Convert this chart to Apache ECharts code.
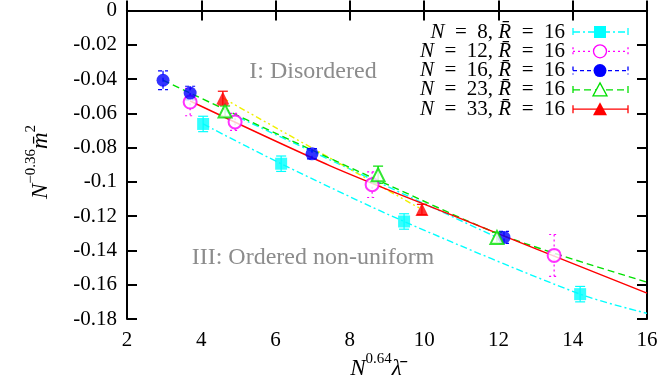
<!DOCTYPE html>
<html>
<head>
<meta charset="utf-8">
<script src="https://cdn.jsdelivr.net/npm/echarts@6.0.0/dist/echarts.min.js"></script>
<style>
html,body{margin:0;padding:0;background:#fff}
#main{width:664px;height:381px}
</style>
</head>
<body>
<div id="main"></div>
<script>
// 数据点 (x, y, 误差)
var xN8  = [4.05, 6.15, 9.46, 14.2];
var yN8  = [-0.0662, -0.0894, -0.1231, -0.1655];
var eN8  = [0.0045, 0.0045, 0.0045, 0.0045];
var xN12 = [3.70, 4.91, 8.60, 13.50];
var yN12 = [-0.0534, -0.0650, -0.1016, -0.1429];
var eN12 = [0.008, 0.005, 0.0075, 0.0122];
var xN16 = [2.97, 3.70, 6.98, 12.15];
var yN16 = [-0.0407, -0.0482, -0.0836, -0.1324];
var eN16 = [0.0055, 0.004, 0.003, 0.0035];
var xN23 = [4.64, 8.76, 11.96];
var yN23 = [-0.0587, -0.0958, -0.1324];
var eN23 = [0.003, 0.005, 0.003];
var xN33 = [4.58, 9.94];
var yN33 = [-0.0511, -0.1161];
var eN33 = [0.004, 0.003];

// 拟合曲线
var fitN8x  = [4.05, 6.15, 9.46, 14.2, 16];
var fitN8y  = [-0.0662, -0.0894, -0.1231, -0.1655, -0.1767];
var fitRedX = [3.70, 7.47, 10.70, 16];
var fitRedY = [-0.0528, -0.0906, -0.1190, -0.1649];
var fitGrnX = [2.97, 6.04, 9.08, 12.18, 16];
var fitGrnY = [-0.0407, -0.0720, -0.1022, -0.1318, -0.1585];
var fitCyX  = [4.64, 11.96];
var fitCyY  = [-0.0587, -0.1324];
var fitYelX = [4.58, 9.94];
var fitYelY = [-0.0511, -0.1161];

var legendN = ['8', '12', '16', '23', '33'];
var legendR = '16';

var FONT = 'Liberation Serif';
var colors = ['#00ffff', '#ff00ff', '#0000ff', '#00e000', '#ff0000'];
var dashes = [[7, 3, 2, 3], [2, 3], [4, 3], [7, 4], null];

function zip(a, b, c) {
  return a.map(function (v, i) { return c ? [v, b[i], c[i]] : [v, b[i]]; });
}

function errSeries(xs, ys, es, color, dash) {
  return {
    type: 'custom',
    z: 3,
    data: zip(xs, ys, es),
    encode: { x: 0, y: 1 },
    renderItem: function (params, api) {
      var x = api.value(0), y = api.value(1), e = api.value(2);
      var t = api.coord([x, y + e]);
      var b = api.coord([x, y - e]);
      var st = { stroke: color, lineWidth: 1.2, lineDash: dash || null };
      var hw = 5;
      return {
        type: 'group',
        children: [
          { type: 'line', shape: { x1: t[0], y1: t[1], x2: b[0], y2: b[1] }, style: st },
          { type: 'line', shape: { x1: t[0] - hw, y1: t[1], x2: t[0] + hw, y2: t[1] }, style: st },
          { type: 'line', shape: { x1: b[0] - hw, y1: b[1], x2: b[0] + hw, y2: b[1] }, style: st }
        ]
      };
    }
  };
}

function pts(xs, ys, symbol, color, size) {
  var empty = symbol.indexOf('empty') === 0;
  return {
    type: 'scatter', z: 4,
    data: zip(xs, ys),
    symbol: symbol, symbolSize: size,
    itemStyle: empty ? { color: color, borderColor: color, borderWidth: 1.3 } : { color: color }
  };
}

function fit(xs, ys, color, dash, smooth) {
  return {
    type: 'line', z: 2,
    data: zip(xs, ys),
    showSymbol: false, smooth: smooth ? 0.3 : false,
    lineStyle: { color: color, width: 1.4, type: dash || 'solid' }
  };
}

var rm = { fontFamily: FONT, fontSize: 21, fill: '#000', color: '#000' };
var itl = { fontFamily: FONT, fontSize: 21, fontStyle: 'italic', fill: '#000', color: '#000' };

// 图例 (手绘)
var legendEls = [];
var markers = ['square', 'emptyCircle', 'circle', 'emptyTriangle', 'triangle'];
legendN.forEach(function (n, i) {
  var y = 32 + 19.3 * i;
  var c = colors[i];
  var st = { stroke: c, lineWidth: 1.3, lineDash: dashes[i] };
  legendEls.push({
    type: 'text', x: 565, y: y,
    style: {
      text: '{i|N}{r|\u2002=\u2002' + n + ', }{i|R\u0304}{r|\u2002=\u2002' + legendR + '}',
      fontFamily: FONT, fontSize: 21, fill: '#000',
      align: 'right', verticalAlign: 'middle',
      rich: { i: itl, r: rm }
    }
  });
  legendEls.push({ type: 'line', shape: { x1: 573, y1: y, x2: 628, y2: y }, style: st });
  legendEls.push({ type: 'line', shape: { x1: 573, y1: y - 4, x2: 573, y2: y + 4 }, style: st });
  legendEls.push({ type: 'line', shape: { x1: 628, y1: y - 4, x2: 628, y2: y + 4 }, style: st });
  var m = markers[i];
  if (m === 'square') {
    legendEls.push({ type: 'rect', shape: { x: 594, y: y - 6, width: 12, height: 12 }, style: { fill: c } });
  } else if (m === 'circle' || m === 'emptyCircle') {
    legendEls.push({ type: 'circle', shape: { cx: 600, cy: y, r: 6.5 },
      style: m === 'circle' ? { fill: c } : { fill: '#fff', stroke: c, lineWidth: 1.3 } });
  } else {
    legendEls.push({ type: 'polygon', shape: { points: [[600, y - 7], [607, y + 6], [593, y + 6]] },
      style: m === 'triangle' ? { fill: c } : { fill: '#fff', stroke: c, lineWidth: 1.3 } });
  }
});

var titleRich = {
  it: { fontFamily: FONT, fontSize: 23, fontStyle: 'italic', lineHeight: 28, verticalAlign: 'bottom', fill: '#000' },
  sup: { fontFamily: FONT, fontSize: 15, lineHeight: 15, verticalAlign: 'top', fill: '#000' }
};

var axisCommon = {
  axisLine: { lineStyle: { color: '#000', width: 2 } },
  axisTick: { inside: true, length: 10, lineStyle: { color: '#000', width: 2 } },
  splitLine: { show: false }
};

var myChart = echarts.init(document.getElementById('main'));

var option = {
  animation: false,
  backgroundColor: '#fff',
  textStyle: { fontFamily: FONT },
  grid: { left: 127, right: 17, top: 9, bottom: 62 },
  xAxis: [
    Object.assign({
      type: 'value', min: 2, max: 16, interval: 2,
      axisLabel: { color: '#000', fontFamily: FONT, fontSize: 21, margin: 11 }
    }, axisCommon),
    Object.assign({
      type: 'value', position: 'top', min: 2, max: 16, interval: 2,
      axisLabel: { show: false }
    }, axisCommon)
  ],
  yAxis: [
    Object.assign({
      type: 'value', min: -0.18, max: 0, interval: 0.02,
      axisLabel: {
        color: '#000', fontFamily: FONT, fontSize: 21, margin: 10,
        formatter: function (v) { return v === 0 ? '0' : String(+v.toFixed(2)); }
      }
    }, axisCommon),
    Object.assign({
      type: 'value', position: 'right', min: -0.18, max: 0, interval: 0.02,
      axisLabel: { show: false }
    }, axisCommon)
  ],
  graphic: legendEls.concat([
    {
      type: 'text', x: 313, y: 72,
      style: { text: 'I: Disordered', fontFamily: FONT, fontSize: 24, fill: '#8c8c8c', align: 'center', verticalAlign: 'middle' }
    },
    {
      type: 'text', x: 313, y: 258,
      style: { text: 'III: Ordered non-uniform', fontFamily: FONT, fontSize: 24, fill: '#8c8c8c', align: 'center', verticalAlign: 'middle' }
    },
    {
      type: 'text', x: 376, y: 366,
      style: {
        text: '{it|N}{sup|0.64}{it|\u03bb\u0304}',
        align: 'center', verticalAlign: 'middle', rich: titleRich
      }
    },
    {
      type: 'text', x: 38, y: 162, rotation: Math.PI / 2,
      style: {
        text: '{it|N}{sup|\u22120.36}{it|m\u0304}{sup|2}',
        align: 'center', verticalAlign: 'middle', rich: titleRich
      }
    }
  ]),
  series: [
    fit(fitN8x, fitN8y, colors[0], dashes[0], true),
    fit(fitCyX, fitCyY, colors[0], dashes[0], false),
    fit(fitYelX, fitYelY, '#f0f000', [6, 3, 2, 3, 2, 3], false),
    fit(fitGrnX, fitGrnY, colors[3], dashes[3], true),
    fit(fitRedX, fitRedY, colors[4], null, true),

    errSeries(xN8, yN8, eN8, colors[0], null),
    errSeries(xN12, yN12, eN12, colors[1], dashes[1]),
    errSeries(xN16, yN16, eN16, colors[2], dashes[2]),
    errSeries(xN23, yN23, eN23, colors[3], null),
    errSeries(xN33, yN33, eN33, colors[4], null),

    pts(xN8, yN8, 'rect', colors[0], 12),
    pts(xN12, yN12, 'emptyCircle', colors[1], 13),
    pts(xN16, yN16, 'circle', colors[2], 13),
    pts(xN23, yN23, 'emptyTriangle', colors[3], 13),
    pts(xN33, yN33, 'triangle', colors[4], 13)
  ]
};

myChart.setOption(option);
</script>
</body>
</html>
